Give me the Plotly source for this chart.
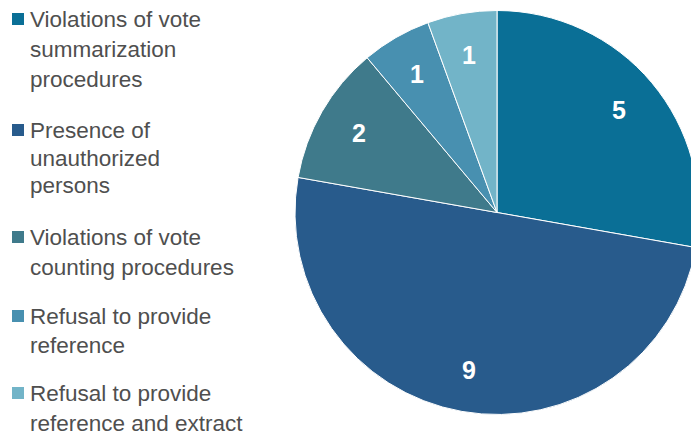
import math
import plotly.graph_objects as go

# ---- data ----
categories = [
    "Violations of vote summarization procedures",
    "Presence of unauthorized persons",
    "Violations of vote counting procedures",
    "Refusal to provide reference",
    "Refusal to provide reference and extract",
]
values = [5, 9, 2, 1, 1]
legend_lines = [
    ["Violations of vote", "summarization", "procedures"],
    ["Presence of", "unauthorized", "persons"],
    ["Violations of vote", "counting procedures"],
    ["Refusal to provide", "reference"],
    ["Refusal to provide", "reference and extract"],
]
colors = ["#0a6f96", "#285b8c", "#3f7a8b", "#4890b0", "#72b4c8"]

# ---- layout geometry (pixels) ----
W, H = 700, 435
PX0, PX1, PY0, PY1 = 295, 699, 10, 415
line_y = [[19, 50, 79], [130, 158, 186], [237, 267], [316, 345], [393, 423]]

fig = go.Figure()
fig.add_trace(go.Pie(
    labels=categories,
    values=values,
    sort=False,
    direction="clockwise",
    rotation=0,
    marker=dict(colors=colors, line=dict(color="white", width=1)),
    textinfo="none",
    domain=dict(x=[PX0 / W, PX1 / W], y=[1 - PY1 / H, 1 - PY0 / H]),
    showlegend=False,
    hoverinfo="label+value",
))

# value labels placed at slice mid-angles (derived from the data)
cx, cy = (PX0 + PX1) / 2, (PY0 + PY1) / 2
R = min(PX1 - PX0, PY1 - PY0) / 2
total = sum(values)
annotations = []
cum = 0
for v in values:
    mid = (cum + v / 2) / total * 2 * math.pi
    cum += v
    x = cx + 0.79 * R * math.sin(mid)
    y = cy - 0.79 * R * math.cos(mid)
    annotations.append(dict(text=str(v), xref="paper", yref="paper",
                            x=x / W, y=1 - y / H, xanchor="center", yanchor="middle",
                            showarrow=False,
                            font=dict(family="Liberation Sans", size=25, color="white",
                                      weight="bold")))

shapes = []
for lines, ys, col in zip(legend_lines, line_y, colors):
    c0 = ys[0]
    shapes.append(dict(type="rect", xref="paper", yref="paper",
                       x0=12 / W, x1=24 / W, y0=1 - (c0 + 6) / H, y1=1 - (c0 - 6) / H,
                       fillcolor=col, line=dict(width=0)))
    for txt, y in zip(lines, ys):
        annotations.append(dict(text=txt, xref="paper", yref="paper",
                                x=28 / W, y=1 - y / H, xanchor="left", yanchor="middle",
                                showarrow=False,
                                font=dict(family="Liberation Sans", size=22.5, color="#4f4f4f")))

fig.update_layout(
    width=W, height=H,
    margin=dict(l=0, r=0, t=0, b=0),
    paper_bgcolor="white", plot_bgcolor="white",
    shapes=shapes, annotations=annotations,
)

fig.write_html(
    "out.html",
    post_script="document.body.style.margin='0';document.body.style.overflow='hidden';document.documentElement.style.overflow='hidden';",
)
